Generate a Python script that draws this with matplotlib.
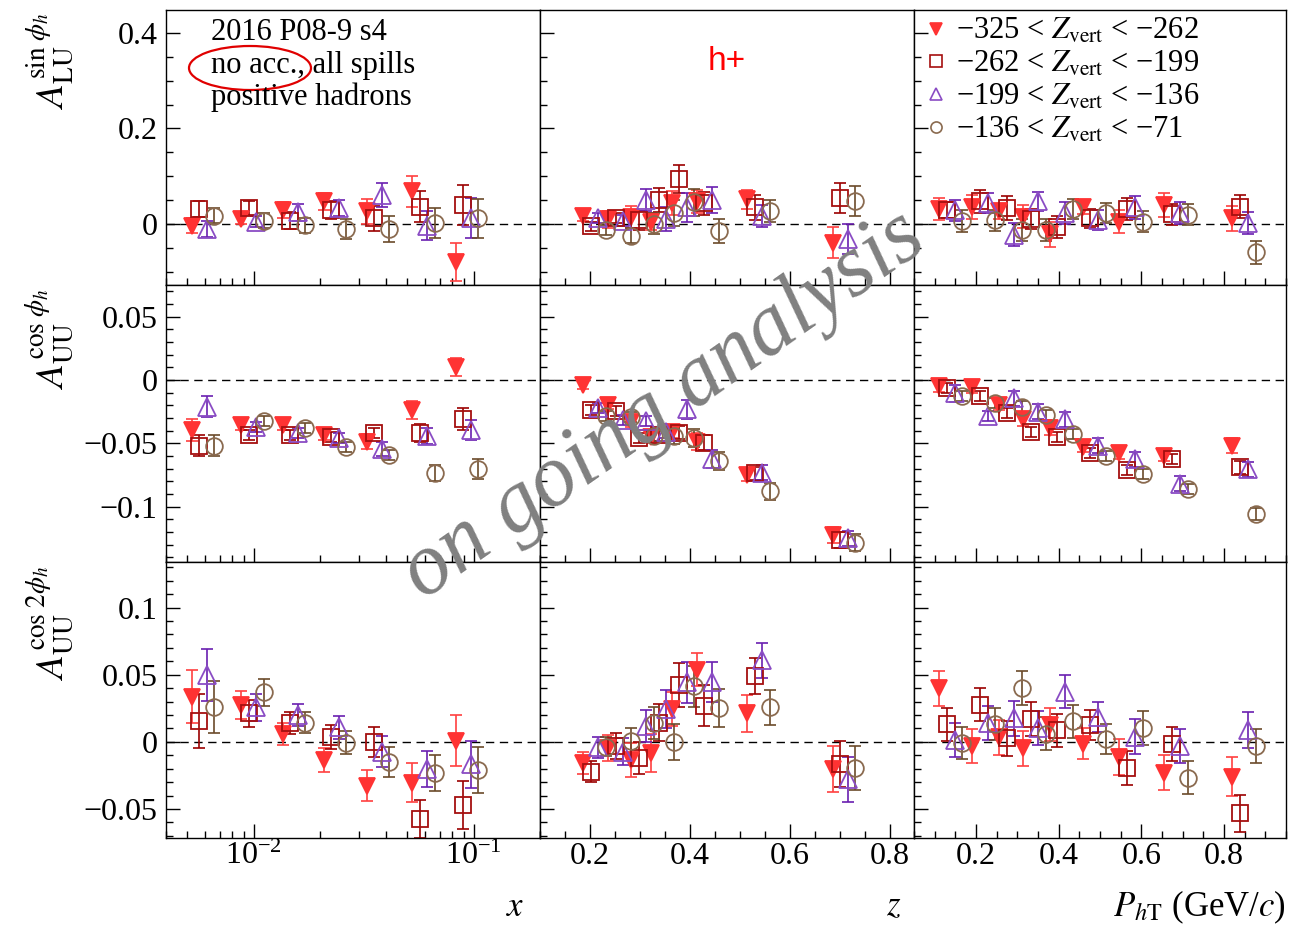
import numpy as np
import matplotlib
matplotlib.use("Agg")
import matplotlib.pyplot as plt
from matplotlib.ticker import MultipleLocator, FuncFormatter, LogLocator, NullFormatter
from matplotlib.patches import Ellipse
from matplotlib.lines import Line2D

plt.rcParams['font.family'] = ['Liberation Serif', 'DejaVu Serif']
plt.rcParams['mathtext.fontset'] = 'stix'

# ---------------- data ----------------
x_bins = [0.00525, 0.0088, 0.01355, 0.0208, 0.0327, 0.0525, 0.083]
z_bins = [0.186, 0.236, 0.282, 0.322, 0.363, 0.413, 0.514, 0.685]
pt_bins = [0.11, 0.19, 0.255, 0.313, 0.378, 0.458, 0.547, 0.656, 0.82]

series_labels = ['\u2212325 < $Z_{\\mathrm{vert}}$ < \u2212262',
                 '\u2212262 < $Z_{\\mathrm{vert}}$ < \u2212199',
                 '\u2212199 < $Z_{\\mathrm{vert}}$ < \u2212136',
                 '\u2212136 < $Z_{\\mathrm{vert}}$ < \u221271']

# sin(phi_h) A_LU
lu_x_val = [[-0.004, 0.010, 0.029, 0.047, 0.026, 0.068, -0.079],
            [0.031, 0.033, 0.007, 0.029, 0.012, 0.036, 0.040],
            [-0.011, 0.005, 0.024, 0.033, 0.061, -0.004, 0.012],
            [0.017, 0.007, -0.003, -0.011, -0.011, 0.002, 0.012]]
lu_x_err = [[0.016, 0.010, 0.017, 0.017, 0.026, 0.032, 0.040],
            [0.017, 0.015, 0.017, 0.019, 0.026, 0.032, 0.042],
            [0.017, 0.012, 0.017, 0.017, 0.025, 0.030, 0.042],
            [0.016, 0.015, 0.016, 0.021, 0.027, 0.032, 0.041]]
lu_z_val = [[0.017, 0.010, 0.015, 0.005, 0.043, 0.047, 0.052, -0.039],
            [-0.005, 0.012, 0.008, 0.050, 0.094, 0.043, 0.035, 0.054],
            [0.012, 0.007, 0.050, 0.010, 0.035, 0.050, 0.017, -0.032],
            [-0.013, -0.025, 0.000, 0.022, 0.045, -0.015, 0.028, 0.048]]
lu_z_err = [[0.010, 0.018, 0.023, 0.017, 0.025, 0.025, 0.020, 0.032],
            [0.010, 0.010, 0.020, 0.025, 0.029, 0.024, 0.026, 0.032],
            [0.010, 0.012, 0.024, 0.025, 0.030, 0.027, 0.023, 0.031],
            [0.010, 0.016, 0.022, 0.027, 0.028, 0.026, 0.023, 0.031]]
lu_pt_val = [[0.031, 0.035, 0.026, 0.015, -0.022, 0.036, 0.005, 0.040, 0.012],
             [0.029, 0.047, 0.033, 0.010, -0.006, 0.012, 0.031, 0.020, 0.036],
             [0.029, 0.043, -0.023, 0.047, 0.022, 0.008, 0.035, 0.022, 0.001],
             [0.006, 0.008, -0.013, -0.013, 0.031, 0.022, 0.005, 0.019, -0.059]]
lu_pt_err = [[0.023, 0.025, 0.015, 0.024, 0.026, 0.015, 0.024, 0.025, 0.026],
             [0.017, 0.024, 0.025, 0.021, 0.023, 0.020, 0.023, 0.022, 0.024],
             [0.022, 0.021, 0.024, 0.019, 0.023, 0.021, 0.024, 0.023, 0.023],
             [0.023, 0.022, 0.023, 0.023, 0.021, 0.021, 0.023, 0.022, 0.024]]

# cos(phi_h) A_UU
uu_x_val = [[-0.0395, -0.0355, -0.0355, -0.0434, -0.0487, -0.0237, 0.0105],
            [-0.052, -0.0434, -0.0434, -0.0453, -0.0416, -0.0421, -0.0308],
            [-0.021, -0.0369, -0.0416, -0.046, -0.0548, -0.0442, -0.0395],
            [-0.052, -0.0321, -0.0382, -0.0527, -0.0592, -0.0732, -0.0703]]
uu_x_err = [[0.0084, 0.004, 0.004, 0.004, 0.006, 0.007, 0.007],
            [0.0083, 0.004, 0.004, 0.004, 0.004, 0.007, 0.009],
            [0.0086, 0.004, 0.004, 0.004, 0.0055, 0.0066, 0.008],
            [0.0083, 0.004, 0.004, 0.004, 0.004, 0.0063, 0.008]]
uu_z_val = [[-0.004, -0.0197, -0.033, -0.0448, -0.0408, -0.0487, -0.075, -0.1224],
            [-0.0237, -0.0242, -0.046, -0.0434, -0.0416, -0.0495, -0.0737, -0.1264],
            [-0.0219, -0.0316, -0.0321, -0.0408, -0.0232, -0.0627, -0.0732, -0.125],
            [-0.0284, -0.029, -0.0442, -0.0442, -0.046, -0.064, -0.088, -0.1285]]
uu_z_err = [[0.003, 0.003, 0.004, 0.005, 0.005, 0.007, 0.005, 0.006],
            [0.004, 0.004, 0.004, 0.005, 0.005, 0.006, 0.005, 0.006],
            [0.004, 0.004, 0.004, 0.005, 0.0075, 0.007, 0.006, 0.006],
            [0.004, 0.004, 0.004, 0.006, 0.007, 0.007, 0.0065, 0.007]]
uu_pt_val = [[-0.0047, -0.0053, -0.0197, -0.031, -0.0382, -0.0527, -0.0574, -0.060, -0.052],
             [-0.0066, -0.0126, -0.0258, -0.0408, -0.0453, -0.0574, -0.0711, -0.0627, -0.069],
             [-0.0105, -0.0284, -0.0145, -0.025, -0.031, -0.052, -0.0627, -0.0821, -0.0706],
             [-0.0126, -0.0184, -0.021, -0.0276, -0.0427, -0.060, -0.0742, -0.0863, -0.1058]]
uu_pt_err = [[0.005, 0.005, 0.004, 0.005, 0.005, 0.004, 0.005, 0.004, 0.006],
             [0.004, 0.004, 0.004, 0.004, 0.004, 0.004, 0.004, 0.004, 0.005],
             [0.0066, 0.004, 0.006, 0.006, 0.006, 0.006, 0.006, 0.006, 0.006],
             [0.004, 0.004, 0.004, 0.004, 0.004, 0.004, 0.004, 0.004, 0.005]]

# cos(2phi_h) A_UU
uu2_x_val = [[0.0338, 0.0276, 0.006, -0.0134, -0.0326, -0.0303, 0.001],
             [0.0157, 0.0214, 0.014, 0.0035, -0.0002, -0.0575, -0.047],
             [0.050, 0.0259, 0.0201, 0.011, -0.0072, -0.0204, -0.0166],
             [0.0259, 0.0368, 0.0144, -0.0005, -0.0147, -0.0229, -0.0209]]
uu2_x_err = [[0.020, 0.0106, 0.0082, 0.0087, 0.0114, 0.0143, 0.0187],
             [0.020, 0.010, 0.008, 0.009, 0.011, 0.014, 0.018],
             [0.0193, 0.010, 0.008, 0.0085, 0.0116, 0.0133, 0.0175],
             [0.0193, 0.0104, 0.0077, 0.0087, 0.0112, 0.0134, 0.0174]]
uu2_z_val = [[-0.0159, -0.0047, -0.0134, -0.0085, 0.0244, 0.0537, 0.0214, -0.0204],
             [-0.0221, -0.003, -0.0122, 0.0144, 0.0425, 0.0269, 0.0493, -0.0164],
             [-0.004, -0.0072, 0.0119, 0.0244, 0.0443, 0.0443, 0.0607, -0.0279],
             [-0.0035, 0.001, 0.014, -0.0002, 0.0413, 0.0251, 0.0259, -0.0196]]
uu2_z_err = [[0.0083, 0.0097, 0.0124, 0.0142, 0.0124, 0.0124, 0.0137, 0.017],
             [0.008, 0.0097, 0.0118, 0.0139, 0.0162, 0.0152, 0.0133, 0.017],
             [0.0078, 0.010, 0.0122, 0.0139, 0.0153, 0.0149, 0.013, 0.0168],
             [0.007, 0.0095, 0.0122, 0.0134, 0.0153, 0.0143, 0.013, 0.0162]]
uu2_pt_val = [[0.040, -0.003, 0.0035, -0.0047, 0.0127, -0.0015, -0.011, -0.0229, -0.0259],
              [0.0132, 0.0276, 0.0027, 0.0169, 0.0085, 0.0127, -0.0196, -0.0015, -0.0532],
              [0.0015, 0.014, 0.0177, 0.0102, 0.0375, 0.0184, 0.004, -0.003, 0.009],
              [-0.001, 0.0134, 0.040, 0.006, 0.0152, 0.002, 0.0102, -0.0266, -0.003]]
uu2_pt_err = [[0.0129, 0.0127, 0.013, 0.013, 0.0124, 0.0116, 0.0134, 0.0133, 0.0145],
              [0.0124, 0.0124, 0.013, 0.0127, 0.012, 0.0114, 0.0127, 0.0128, 0.0137],
              [0.0124, 0.0124, 0.013, 0.0127, 0.0122, 0.0114, 0.013, 0.0128, 0.0132],
              [0.012, 0.0122, 0.0127, 0.0124, 0.012, 0.0113, 0.0127, 0.0124, 0.0128]]

# ---------------- style ----------------
W, H = 1289, 925
fig = plt.figure(figsize=(W / 100, H / 100), dpi=100)

col_left = [166, 540, 914]
col_width = [374, 374, 372]
row_top = [10, 285, 562]
row_height = [275, 277, 276]

ylims = [(-0.128, 0.448), (-0.1438, 0.075), (-0.0716, 0.134)]
ymajor = [0.2, 0.05, 0.05]
yminor = [0.05, 0.01, 0.01]
xlims = [(0.004, 0.2), (0.1, 0.848), (0.05, 0.95)]

mk = ['v', 's', '^', 'o']
face = ['#ff3333', 'none', 'none', 'none']
edge = ['#ff3333', '#a50f0f', '#8a4cc4', '#8a6a4f']
ecol = ['#ff4040', '#9b0000', '#6a1fb0', '#6b4a2a']
msize = [12, 11.5, 12.5, 12]

# offsets between series (per column): log-dex, linear, linear
x_shift = [0.034, 0.015, 0.019]

panels = [[(lu_x_val, lu_x_err), (lu_z_val, lu_z_err), (lu_pt_val, lu_pt_err)],
          [(uu_x_val, uu_x_err), (uu_z_val, uu_z_err), (uu_pt_val, uu_pt_err)],
          [(uu2_x_val, uu2_x_err), (uu2_z_val, uu2_z_err), (uu2_pt_val, uu2_pt_err)]]
bins = [x_bins, z_bins, pt_bins]


def fmt(v, pos):
    s = '%g' % round(v, 6)
    if s == '-0':
        s = '0'
    return s.replace('-', '\u2212')


axes = [[None] * 3 for _ in range(3)]
for r in range(3):
    for c in range(3):
        rect = [col_left[c] / W, 1 - (row_top[r] + row_height[r]) / H,
                col_width[c] / W, row_height[r] / H]
        ax = fig.add_axes(rect)
        axes[r][c] = ax
        if c == 0:
            ax.set_xscale('log')
        ax.set_xlim(*xlims[c])
        ax.set_ylim(*ylims[r])
        ax.axhline(0, color='black', lw=1.0, ls=(0, (6, 4)), zorder=1)

        vals, errs = panels[r][c]
        base = np.array(bins[c])
        for s in range(4):
            if c == 0:
                xs = base * 10 ** (x_shift[c] * s)
            else:
                xs = base + x_shift[c] * s
            ax.errorbar(xs, vals[s], yerr=errs[s], fmt='none', ecolor=ecol[s],
                        elinewidth=1.2, capsize=4, capthick=1.2, zorder=2)
            ax.plot(xs, vals[s], ls='none', marker=mk[s], ms=msize[s],
                    mfc=face[s], mec=edge[s], mew=1.3, zorder=3)

        # ticks
        ax.tick_params(which='both', direction='in', top=False, right=False,
                       labelsize=23, width=1.0)
        ax.tick_params(axis='y', pad=6)
        ax.tick_params(axis='x', pad=3)
        ax.tick_params(which='major', length=10)
        ax.tick_params(which='minor', length=5)
        ax.yaxis.set_major_locator(MultipleLocator(ymajor[r]))
        ax.yaxis.set_minor_locator(MultipleLocator(yminor[r]))
        ax.yaxis.set_major_formatter(FuncFormatter(fmt))
        if c == 0:
            ax.xaxis.set_major_locator(LogLocator(base=10))
            ax.xaxis.set_minor_locator(LogLocator(base=10, subs=np.arange(2, 10)))
            ax.xaxis.set_minor_formatter(NullFormatter())
        else:
            ax.xaxis.set_major_locator(MultipleLocator(0.2))
            ax.xaxis.set_minor_locator(MultipleLocator(0.05))
            ax.xaxis.set_major_formatter(FuncFormatter(fmt))
        if c != 0:
            ax.tick_params(labelleft=False)
        if r != 2:
            ax.tick_params(labelbottom=False)
        for sp in ax.spines.values():
            sp.set_linewidth(1.0)


def fx(px):
    return px / W


def fy(py):
    return 1 - py / H


# y labels
ylabels = [r'$A_{\mathrm{LU}}^{\sin\,\phi_h}$',
           r'$A_{\mathrm{UU}}^{\cos\,\phi_h}$',
           r'$A_{\mathrm{UU}}^{\cos\,2\phi_h}$']
for r in range(3):
    fig.text(fx(50), fy(row_top[r] + 3), ylabels[r], rotation=90, ha='center',
             va='top', fontsize=28)

# x labels
fig.text(fx(524), fy(907), r'$x$', ha='right', va='center', fontsize=25)
fig.text(fx(901), fy(907), r'$z$', ha='right', va='center', fontsize=25)
fig.text(fx(1286), fy(907), r'$P_{h\mathrm{T}}$ (GeV/$c$)', ha='right', va='center',
         fontsize=25)

# info text
for i, t in enumerate(['2016 P08-9 s4', 'no acc., all spills', 'positive hadrons']):
    fig.text(fx(211), fy(33 + 32 * i), t, ha='left', va='center', fontsize=22)
fig.patches.append(Ellipse((fx(250), fy(68)), 122 / W, 44 / H, transform=fig.transFigure,
                           fill=False, edgecolor='#e00000', lw=1.6))

# h+
fig.text(fx(727), fy(62), 'h+', color='#ff0000', ha='center', va='center',
         fontsize=24, family=['Liberation Sans', 'DejaVu Sans'])

# legend
handles = [Line2D([], [], ls='none', marker=mk[s], ms=8, mfc=face[s], mec=edge[s], mew=1.2)
           for s in range(4)]
axes[0][2].legend(handles, series_labels, loc='upper left',
                  bbox_to_anchor=(fx(927), fy(17)), bbox_transform=fig.transFigure,
                  frameon=False, fontsize=22, handlelength=0.6, handletextpad=0.35,
                  labelspacing=0.12, borderpad=0, borderaxespad=0)

# watermark
fig.text(fx(664), fy(406), 'on going analysis', rotation=35, rotation_mode='anchor',
         ha='center', va='center', fontsize=63, style='italic', color='#808080',
         zorder=10)

fig.savefig('out.png', dpi=100)
